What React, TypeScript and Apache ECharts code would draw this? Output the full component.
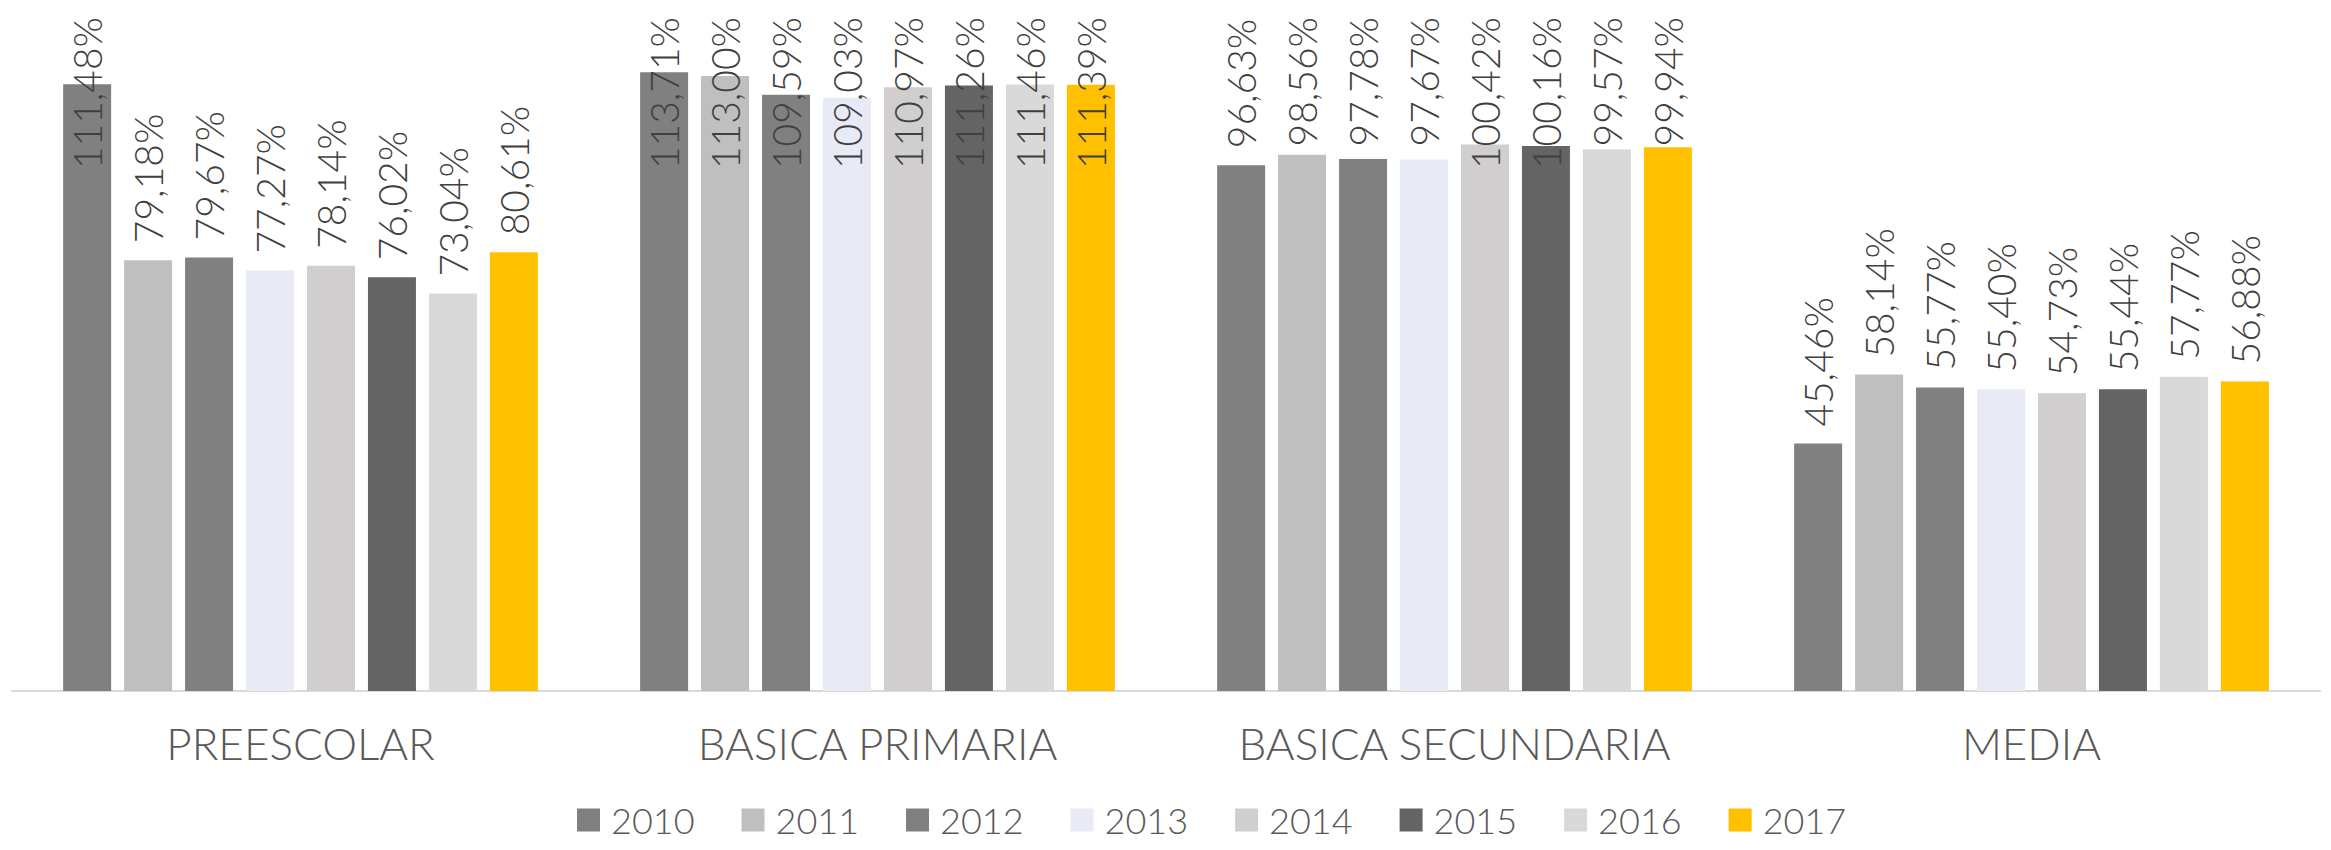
import React, { useEffect, useRef } from "react";
import * as echarts from "echarts";

const categories = ["PREESCOLAR", "BASICA PRIMARIA", "BASICA SECUNDARIA", "MEDIA"];
const years = ["2010", "2011", "2012", "2013", "2014", "2015", "2016", "2017"];
const colors = ["#808080", "#bfbfbf", "#808080", "#e8ebf5", "#d0cece", "#646464", "#d9d9d9", "#ffc000"];

const v2010 = [111.48, 113.71, 96.63, 45.46];
const v2011 = [79.18, 113.0, 98.56, 58.14];
const v2012 = [79.67, 109.59, 97.78, 55.77];
const v2013 = [77.27, 109.03, 97.67, 55.4];
const v2014 = [78.14, 110.97, 100.42, 54.73];
const v2015 = [76.02, 111.26, 100.16, 55.44];
const v2016 = [73.04, 111.46, 99.57, 57.77];
const v2017 = [80.61, 111.39, 99.94, 56.88];
const seriesValues = [v2010, v2011, v2012, v2013, v2014, v2015, v2016, v2017];

const FONT = "Lato, 'Open Sans', sans-serif";
const LABEL_TOP_LIMIT = 17;

export default function App() {
  const ref = useRef<HTMLDivElement>(null);
  useEffect(() => {
    if (!ref.current) return;
    const chart = echarts.init(ref.current, null, { renderer: "svg" });
    const series = years.map((y, i) => ({
      name: y,
      type: "bar",
      data: seriesValues[i],
      barWidth: 48,
      barGap: "27%",
      itemStyle: { color: colors[i] },
      label: {
        show: true,
        position: "top",
        distance: 17,
        rotate: 90,
        align: "left",
        verticalAlign: "middle",
        color: "#404040",
        fontFamily: FONT,
        fontWeight: 300,
        fontSize: 39,
        formatter: (p: any) => p.value.toFixed(2).replace(".", ",") + "%",
      },
    }));
    chart.setOption({
      animation: false,
      backgroundColor: "#ffffff",
      textStyle: { fontFamily: FONT },
      grid: { left: 12, right: 11, top: 38, bottom: 159, containLabel: false },
      legend: {
        data: years,
        left: 577,
        bottom: 12,
        padding: 0,
        icon: "rect",
        itemWidth: 23,
        itemHeight: 23,
        itemGap: 47,
        textStyle: {
          color: "#595959",
          fontFamily: FONT,
          fontWeight: 300,
          fontSize: 36,
          padding: [0, 0, 0, 6],
        },
      },
      xAxis: {
        type: "category",
        data: categories,
        axisLine: { show: true, lineStyle: { color: "#d9d9d9", width: 2 } },
        axisTick: { show: false },
        axisLabel: {
          color: "#595959",
          fontFamily: FONT,
          fontWeight: 300,
          fontSize: 44,
          margin: 30,
        },
      },
      yAxis: {
        type: "value",
        min: 0,
        max: 120,
        show: false,
        splitLine: { show: false },
      },
      labelLayout: (params: any) => {
        const r = params.labelRect;
        if (r && r.y < LABEL_TOP_LIMIT) {
          // offset is applied in the label's rotated (90°) frame
          return { dx: -(LABEL_TOP_LIMIT - r.y), dy: 0 };
        }
        return {};
      },
      series,
    });
    return () => chart.dispose();
  }, []);
  return (
    <div
      ref={ref}
      style={{ position: "fixed", left: 0, top: 0, width: 2331, height: 850, background: "#fff" }}
    />
  );
}
